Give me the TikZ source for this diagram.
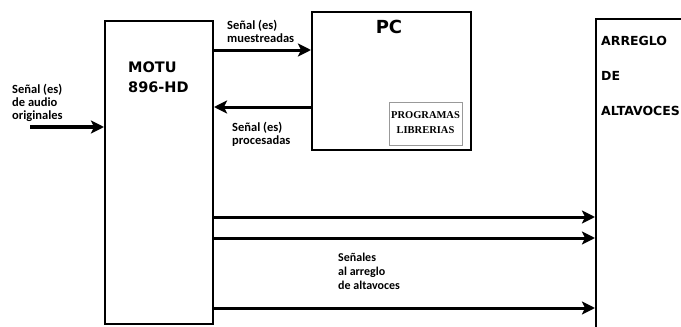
\documentclass[tikz,border=0pt]{standalone}
\usepackage{fontspec}
\setmainfont{DejaVu Sans}
\newfontfamily\lblfont{Carlito}
\newfontfamily\progfont{Liberation Serif}
\usetikzlibrary{arrows.meta}
\begin{document}
\begin{tikzpicture}[x=1pt,y=-1pt,
  box/.style={draw, line width=2pt, inner sep=0pt, anchor=north west},
  arr/.style={line width=3pt, -{Stealth[length=13pt,width=13pt,inset=3pt]}},
  ttl/.style={font=\bfseries\fontsize{14.5}{20}\selectfont, align=left, anchor=north west, inner sep=0pt},
  ttlb/.style={font=\bfseries\fontsize{12.5}{14}\selectfont, anchor=north west, inner sep=0pt},
  lbl/.style={font=\lblfont\bfseries\fontsize{12.5}{13.2}\selectfont, align=left, anchor=north west, inner sep=0pt},
  lbll/.style={font=\lblfont\bfseries\fontsize{12}{13.8}\selectfont, align=left, anchor=north west, inner sep=0pt},
  prog/.style={font=\progfont\bfseries\fontsize{10.5}{12}\selectfont, inner sep=0pt},
]
\useasboundingbox (0,0) rectangle (681,327);
\clip (0,0) rectangle (681,327);
\fill[white] (0,0) rectangle (681,327);

% boxes
\node[box, minimum width=108pt, minimum height=303pt] (motu) at (104,20) {};
\node[box, minimum width=159pt, minimum height=138pt] (pc) at (311,11) {};
\node[box, draw=gray!80, line width=1pt, minimum width=73pt, minimum height=43pt] (prog) at (389,102) {};
\node[box, minimum width=200pt, minimum height=400pt] (arreglo) at (595,18) {};

% titles
\node[ttl] (motut) at (128,62) {MOTU\\896-HD};
\node[font=\bfseries\fontsize{18}{20}\selectfont, inner sep=0pt, anchor=north] (pct) at (389,20) {PC};
\node[ttlb] (a1) at (601,36) {ARREGLO};
\node[ttlb] (a2) at (601,71) {DE};
\node[ttlb] (a3) at (601,106) {ALTAVOCES};
\node[prog] (p1) at (425.5,115) {PROGRAMAS};
\node[prog] (p2) at (425.5,130) {LIBRERIAS};

% labels
\node[lbl] (lin) at (12,84) {Señal (es)\\de audio\\originales};
\node[lbl] (lmu) at (227,20) {Señal (es)\\muestreadas};
\node[lbl] (lpr) at (232,122) {Señal (es)\\procesadas};
\node[lbll] (lal) at (338,253) {Señales\\al arreglo\\de altavoces};

% helper coordinates
\coordinate (inS) at (30,127);
\coordinate (r1) at (0,50);
\coordinate (r2) at (0,107);
\coordinate (r3) at (0,217);
\coordinate (r4) at (0,238);
\coordinate (r5) at (0,308);

% arrows
\draw[arr, line width=3.8pt] (inS) -- (inS -| motu.west);
\draw[arr] (motu.east |- r1) -- (pc.west |- r1);
\draw[arr] (pc.west |- r2) -- (motu.east |- r2);
\draw[arr] (motu.east |- r3) -- (arreglo.west |- r3);
\draw[arr] (motu.east |- r4) -- (arreglo.west |- r4);
\draw[arr] (motu.east |- r5) -- (arreglo.west |- r5);
\end{tikzpicture}
\end{document}
